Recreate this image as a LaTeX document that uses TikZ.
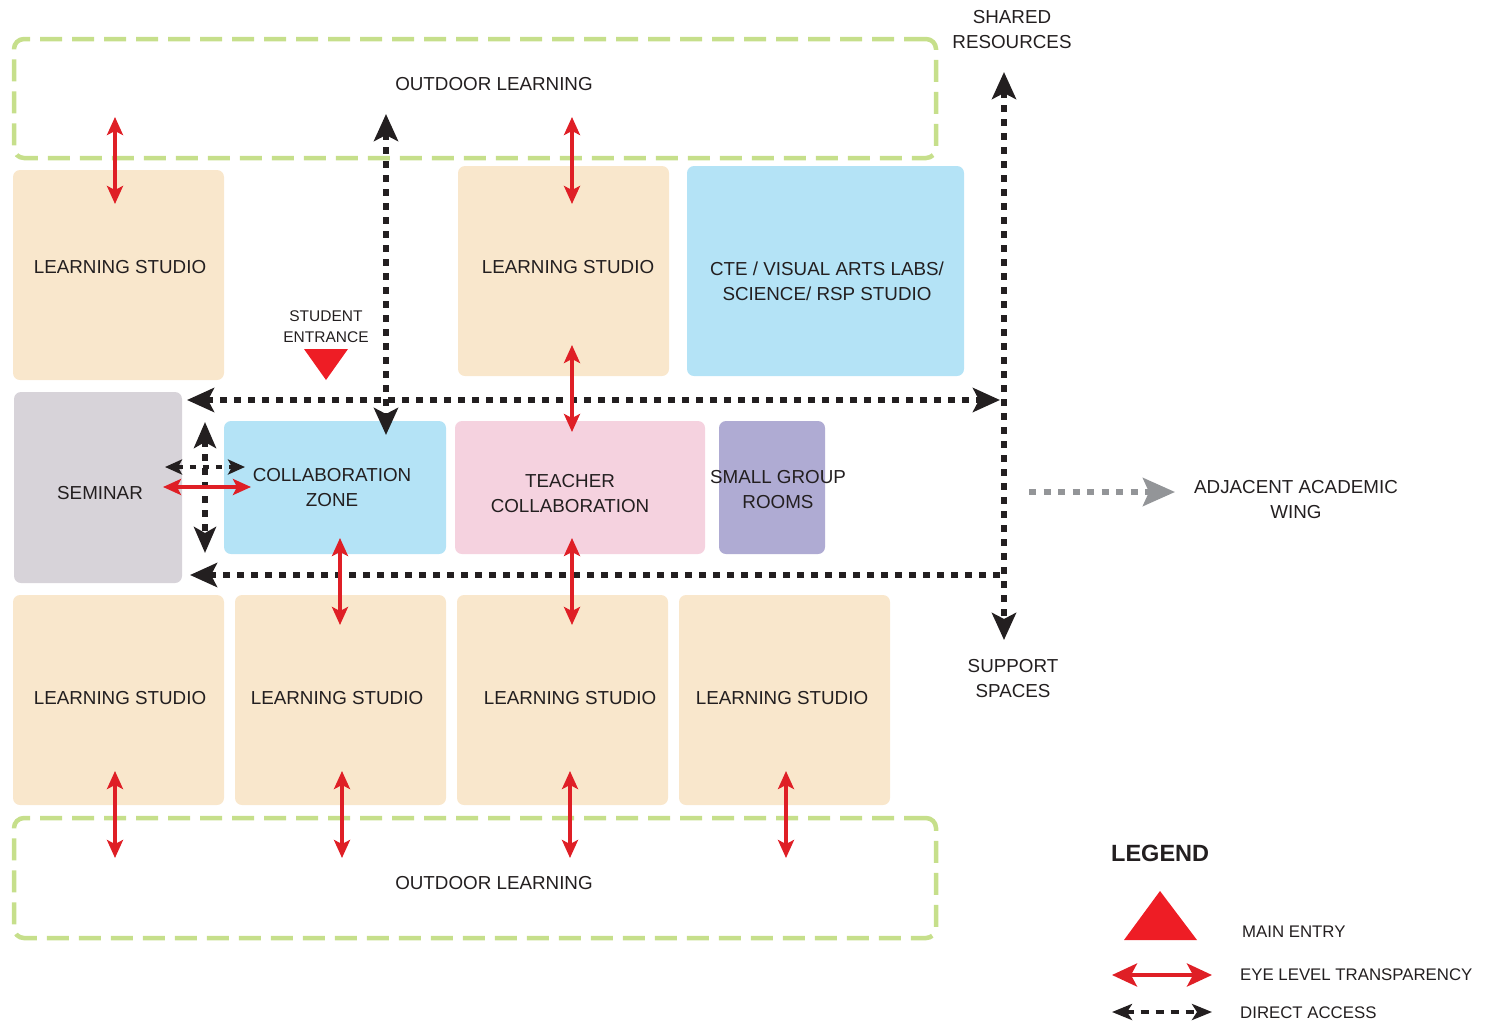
\documentclass[tikz,border=0pt]{standalone}
\usepackage{fontspec}
\setmainfont{Liberation Sans}
\usetikzlibrary{arrows.meta}
\definecolor{txt}{HTML}{231F20}
\definecolor{studio}{HTML}{F9E7CC}
\definecolor{cte}{HTML}{B4E3F6}
\definecolor{sem}{HTML}{D7D3D9}
\definecolor{pinkc}{HTML}{F5D2DF}
\definecolor{lav}{HTML}{AFABD3}
\definecolor{grn}{HTML}{C6DF8B}
\definecolor{redc}{HTML}{DF1F26}
\definecolor{tri}{HTML}{EE1D25}
\definecolor{blk}{HTML}{231F20}
\definecolor{gry}{HTML}{939598}
\tikzset{
  room/.style={draw=none, rounded corners=7pt, inner sep=0pt},
  outdoor/.style={draw=grn, line width=4.5pt, dash pattern=on 22pt off 10pt, rounded corners=10pt, inner sep=0pt},
  lbl/.style={text=txt, align=center, inner sep=0pt, font=\fontsize{18.8}{25}\selectfont},
  smalllbl/.style={text=txt, align=center, inner sep=0pt, font=\fontsize{15.5}{21}\selectfont},
  leglbl/.style={text=txt, anchor=west, inner sep=0pt, font=\fontsize{16.8}{20}\selectfont},
  redarr/.style={draw=redc, line width=3.3pt, {Stealth[length=18pt,width=16pt,inset=4pt]}-{Stealth[length=18pt,width=16pt,inset=4pt]}},
  blkdot/.style={draw=blk, line width=6pt, dash pattern=on 7pt off 7pt},
  bigtip/.tip={Stealth[length=27pt,width=24pt,inset=6pt]},
}
\begin{document}
\begin{tikzpicture}[x=1pt,y=-1pt]
\useasboundingbox (0,0) rectangle (1492,1026);
% rooms
\node[room, fill=studio, minimum width=211pt, minimum height=210pt] (ls1) at (118.5,275) {};
\node[room, fill=studio, minimum width=211pt, minimum height=210pt] (ls2) at (563.5,271) {};
\node[room, fill=cte, minimum width=277pt, minimum height=210pt] (cte) at (825.5,271) {};
\node[room, fill=sem, minimum width=168pt, minimum height=191pt] (sem) at (98,487.5) {};
\node[room, fill=cte, minimum width=222pt, minimum height=133pt] (col) at (335,487.5) {};
\node[room, fill=pinkc, minimum width=250pt, minimum height=133pt] (tch) at (580,487.5) {};
\node[room, fill=lav, minimum width=106pt, minimum height=133pt] (sgr) at (772,487.5) {};
\node[room, fill=studio, minimum width=211pt, minimum height=210pt] (ls3) at (118.5,700) {};
\node[room, fill=studio, minimum width=211pt, minimum height=210pt] (ls4) at (340.5,700) {};
\node[room, fill=studio, minimum width=211pt, minimum height=210pt] (ls5) at (562.5,700) {};
\node[room, fill=studio, minimum width=211pt, minimum height=210pt] (ls6) at (784.5,700) {};
% outdoor areas
\node[outdoor, minimum width=922pt, minimum height=119pt] (out1) at (475,98.5) {};
\node[outdoor, minimum width=922pt, minimum height=120pt] (out2) at (475,878) {};
% student entrance triangle
\fill[tri] (304,349) -- (348,349) -- (326,380) -- cycle;
% coordinates for connectors
\coordinate (h1a) at (187,400); \coordinate (h1b) at (1000,400);
\coordinate (h2a) at (190,575); \coordinate (h2b) at (1004,575);
\coordinate (v1a) at (1004,72); \coordinate (v1b) at (1004,640);
\coordinate (v2a) at (386,114); \coordinate (v2b) at (386,435);
\coordinate (v3a) at (205,422); \coordinate (v3b) at (205,553);
\coordinate (h3a) at (165,467); \coordinate (h3b) at (245,467);
\coordinate (g1a) at (1029,492); \coordinate (g1b) at (1175,492);
% black dotted connectors
\draw[blkdot, bigtip-bigtip] (h1a) -- (h1b);
\draw[blkdot, bigtip-] (h2a) -- (h2b);
\draw[blkdot, bigtip-bigtip] (v1a) -- (v1b);
\draw[blkdot, bigtip-bigtip] (v2a) -- (v2b);
\draw[blkdot, {Stealth[length=26pt,width=22pt,inset=6pt]}-{Stealth[length=26pt,width=22pt,inset=6pt]}] (v3a) -- (v3b);
\draw[draw=blk, line width=3.8pt, dash pattern=on 6pt off 7pt, {Stealth[length=17pt,width=15pt,inset=4pt]}-{Stealth[length=17pt,width=15pt,inset=4pt]}] (h3a) -- (h3b);
\draw[draw=gry, line width=5.5pt, dash pattern=on 7pt off 7.5pt, -{Stealth[length=32pt,width=28pt,inset=6pt]}] (g1a) -- (g1b);
% red connectors
\coordinate (r1a) at (115,117); \coordinate (r1b) at (115,204);
\coordinate (r2a) at (572,117); \coordinate (r2b) at (572,204);
\coordinate (r3a) at (572,345); \coordinate (r3b) at (572,432);
\coordinate (r4a) at (340,538); \coordinate (r4b) at (340,625);
\coordinate (r5a) at (572,538); \coordinate (r5b) at (572,625);
\coordinate (r6a) at (163,487); \coordinate (r6b) at (251,487);
\coordinate (r7a) at (115,771); \coordinate (r7b) at (115,858);
\coordinate (r8a) at (342,771); \coordinate (r8b) at (342,858);
\coordinate (r9a) at (570,771); \coordinate (r9b) at (570,858);
\coordinate (r10a) at (786,771); \coordinate (r10b) at (786,858);
\foreach \i in {1,...,10} { \draw[redarr] (r\i a) -- (r\i b); }
% labels
\node[lbl] (out1t) at (494,84) {OUTDOOR LEARNING};
\node[lbl] (out2t) at (494,883) {OUTDOOR LEARNING};
\node[lbl] (ls1t) at (120,267) {LEARNING STUDIO};
\node[lbl] (ls2t) at (568,267) {LEARNING STUDIO};
\node[lbl] (ctet) at (827,281.5) {CTE / VISUAL ARTS LABS/\\SCIENCE/ RSP STUDIO};
\node[lbl] (semt) at (100,493) {SEMINAR};
\node[lbl] (colt) at (332,487.5) {COLLABORATION\\ZONE};
\node[lbl] (tcht) at (570,493.5) {TEACHER\\COLLABORATION};
\node[lbl] (sgrt) at (778,490) {SMALL GROUP\\ROOMS};
\node[lbl] (ls3t) at (120,698) {LEARNING STUDIO};
\node[lbl] (ls4t) at (337,698) {LEARNING STUDIO};
\node[lbl] (ls5t) at (570,698) {LEARNING STUDIO};
\node[lbl] (ls6t) at (782,698) {LEARNING STUDIO};
\node[smalllbl] (entt) at (326,327) {STUDENT\\ENTRANCE};
\node[lbl] (shrt) at (1012,29.5) {SHARED\\RESOURCES};
\node[lbl] (supt) at (1013,678.5) {SUPPORT\\SPACES};
\node[lbl] (adjt) at (1296,499.5) {ADJACENT ACADEMIC\\WING};
% legend
\node[text=txt, anchor=west, inner sep=0pt, font=\fontsize{23.5}{28}\selectfont\bfseries] (legt) at (1111,853) {LEGEND};
\fill[tri] (1124,940) -- (1197,940) -- (1160,891) -- cycle;
\node[leglbl] (leg1) at (1242,932) {MAIN ENTRY};
\coordinate (l2a) at (1112,975); \coordinate (l2b) at (1212,975);
\draw[draw=redc, line width=4pt, {Stealth[length=25pt,width=23pt,inset=6pt]}-{Stealth[length=25pt,width=23pt,inset=6pt]}] (l2a) -- (l2b);
\node[leglbl] (leg2) at (1240,975) {EYE LEVEL TRANSPARENCY};
\coordinate (l3a) at (1112,1012); \coordinate (l3b) at (1212,1012);
\draw[draw=blk, line width=4pt, dash pattern=on 8pt off 7pt, {Stealth[length=20pt,width=16pt,inset=5pt]}-{Stealth[length=20pt,width=16pt,inset=5pt]}] (l3a) -- (l3b);
\node[leglbl] (leg3) at (1240,1013) {DIRECT ACCESS};
\end{tikzpicture}
\end{document}
